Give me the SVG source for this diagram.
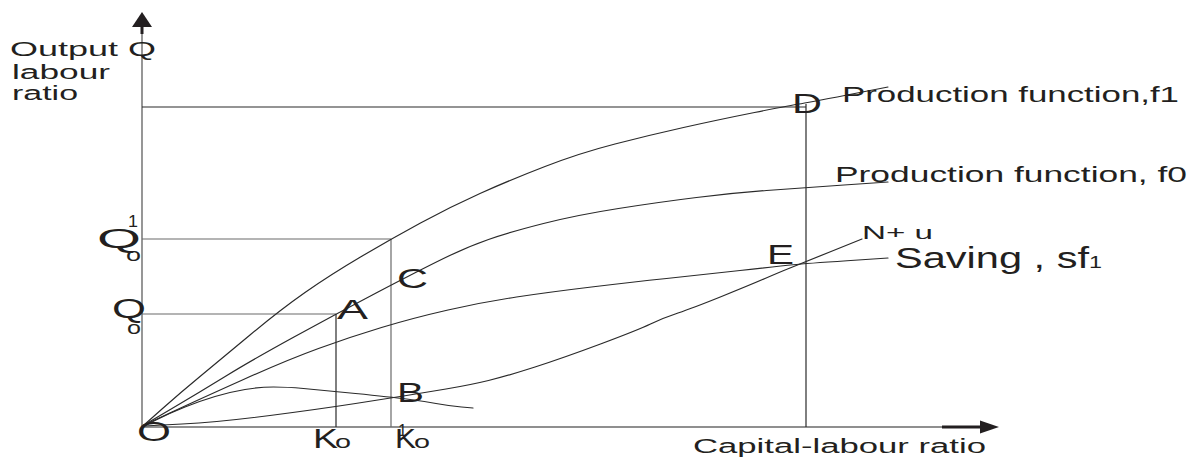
<svg xmlns="http://www.w3.org/2000/svg" width="1201" height="457" viewBox="0 0 1201 457">
<style>
.axis{stroke:#6a6a6a;stroke-width:1.4;fill:none}
.guide{stroke:#6a6a6a;stroke-width:1.2;fill:none}
.guideDark{stroke:#2a2a2a;stroke-width:1.2;fill:none}
.curve{stroke:#2a2a2a;stroke-width:1.2;fill:none;stroke-linejoin:round;stroke-linecap:round}
.head{fill:#231f20;stroke:none}
.thick{stroke:#231f20;stroke-width:3;fill:none}
text{font-family:"Liberation Sans",Arial,sans-serif;fill:#231f20}
.lbl{font-size:20px}
.pt{font-size:27px}
.sub{font-size:19px}
.sup{font-size:17px}
</style>
<rect width="1201" height="457" fill="#ffffff"/>
<g id="axes">
  <line class="axis" x1="142" y1="427" x2="142" y2="30"/>
  <line class="thick" x1="142" y1="25" x2="142" y2="34"/>
  <polygon class="head" points="142,12 132,27 152,27"/>
  <line class="axis" x1="142" y1="427" x2="944" y2="427"/>
  <line class="thick" x1="942" y1="427" x2="984" y2="427"/>
  <polygon class="head" points="999,427 980,420.5 980,433.5"/>
</g>
<g id="guides">
  <line class="guideDark" x1="142" y1="107" x2="806" y2="107"/>
  <line class="guideDark" x1="806" y1="104" x2="806" y2="427"/>
  <line class="guide" x1="142" y1="239" x2="391" y2="239"/>
  <line class="guide" x1="391" y1="239" x2="391" y2="427"/>
  <line class="guide" x1="142" y1="314" x2="336" y2="314"/>
  <line class="guideDark" x1="336" y1="314" x2="336" y2="427"/>
</g>
<g id="connectors">
  <path id="f1" class="curve" d="M144,425 L162,409 Q180,393 200,376.5 Q220,360 250,335 Q280,310 305,292.5 Q330,275 360.5,257 Q391,239 420.5,223 Q450,207 480,193.5 Q510,180 545,166.5 Q580,153 615,144 Q650,135 683.5,127.5 Q717,120 754.5,112.5 Q792,105 799,104 Q806,103 847,95 L888,87"/>
  <path id="f0" class="curve" d="M144,425 L172,408.5 Q200,392 226,376 Q252,360 294,337 Q336,314 378,292 Q420,270 443.5,258.5 Q467,247 488.5,239.5 Q510,232 543.5,223.5 Q577,215 618.5,208.5 Q660,202 696.5,197.5 Q733,193 766.5,190.5 Q800,188 844,185 L888,182"/>
  <path id="saving" class="curve" d="M144,425 L172,412 Q200,399 243.5,379.5 Q287,360 318.5,348.5 Q350,337 381.5,327.5 Q413,318 448,310 Q483,302 516.5,297 Q550,292 591.5,287 Q633,282 666.5,278.5 Q700,275 740,270.5 Q780,266 793,264.75 Q806,263.5 847,260.75 L888,258"/>
  <path id="nu" class="curve" d="M144,426 L182,424 Q220,422 270,415.5 Q320,409 355.5,403.5 Q391,398 406.5,395.5 Q422,393 446,389 Q470,385 488.5,380.5 Q507,376 535,367 Q563,358 600.5,344 Q638,330 650.5,324 Q663,318 678,313 Q693,308 721.5,296.5 Q750,285 765,278.5 Q780,272 790,268 Q800,264 831,251.5 L862,239"/>
  <path id="hump" class="curve" d="M144,426 L157,419.5 Q170,413 185,407 Q200,401 215,396.5 Q230,392 245,389.5 Q260,387 273.5,387 Q287,387 303.5,388.5 Q320,390 355.5,393.5 Q391,397 406.5,399 Q422,401 436,403.5 Q450,406 461.5,407 L473,408"/>
</g>
<g id="axis-labels">
  <text class="lbl" x="10" y="56" textLength="146" lengthAdjust="spacingAndGlyphs">Output Q</text>
  <text class="lbl" x="12" y="79" textLength="98" lengthAdjust="spacingAndGlyphs">labour</text>
  <text class="lbl" x="12" y="100" textLength="66" lengthAdjust="spacingAndGlyphs">ratio</text>
  <text class="lbl" x="693" y="453" textLength="293" lengthAdjust="spacingAndGlyphs">Capital-labour ratio</text>
</g>
<g id="curve-labels">
  <text x="842" y="102" font-size="22" textLength="337" lengthAdjust="spacingAndGlyphs">Production function,f1</text>
  <text x="835" y="182" font-size="22" textLength="352" lengthAdjust="spacingAndGlyphs">Production function, f0</text>
  <text x="862" y="239" font-size="19" textLength="71" lengthAdjust="spacingAndGlyphs">N+ u</text>
  <text x="895" y="268" font-size="29" textLength="194" lengthAdjust="spacingAndGlyphs">Saving , sf</text>
  <text x="1089" y="268" font-size="17" textLength="13" lengthAdjust="spacingAndGlyphs">1</text>
</g>
<g id="point-labels">
  <text id="lbl-D" class="pt" x="792" y="113" font-size="28" textLength="30" lengthAdjust="spacingAndGlyphs">D</text>
  <text id="lbl-E" class="pt" x="767" y="264" textLength="27" lengthAdjust="spacingAndGlyphs">E</text>
  <text id="lbl-C" class="pt" x="397" y="288" textLength="31" lengthAdjust="spacingAndGlyphs">C</text>
  <text id="lbl-A" class="pt" x="337" y="319" font-size="23" textLength="31" lengthAdjust="spacingAndGlyphs">A</text>
  <text id="lbl-B" class="pt" x="397" y="402" textLength="27" lengthAdjust="spacingAndGlyphs">B</text>
  <text id="lbl-O" class="pt" x="137" y="441" textLength="34" lengthAdjust="spacingAndGlyphs">O</text>
</g>
<g id="q-labels">
  <text class="pt" x="97" y="248" font-size="28" textLength="44" lengthAdjust="spacingAndGlyphs">Q</text>
  <text class="sup" x="128" y="227" textLength="10" lengthAdjust="spacingAndGlyphs">1</text>
  <text class="sub" x="126" y="261" textLength="15" lengthAdjust="spacingAndGlyphs">o</text>
  <text class="pt" x="112" y="318" font-size="28" textLength="34" lengthAdjust="spacingAndGlyphs">Q</text>
  <text class="sub" x="127" y="334" textLength="14" lengthAdjust="spacingAndGlyphs">o</text>
</g>
<g id="k-labels">
  <text class="pt" x="313" y="448" font-size="25" textLength="25" lengthAdjust="spacingAndGlyphs">K</text>
  <text class="sub" x="335" y="448" font-size="21" textLength="16" lengthAdjust="spacingAndGlyphs">o</text>
  <text class="pt" x="395" y="448" font-size="25" textLength="21" lengthAdjust="spacingAndGlyphs">K</text>
  <text class="sub" x="414" y="448" font-size="21" textLength="16" lengthAdjust="spacingAndGlyphs">o</text>
  <text class="sup" x="398" y="436" textLength="9" lengthAdjust="spacingAndGlyphs">1</text>
</g>
</svg>
